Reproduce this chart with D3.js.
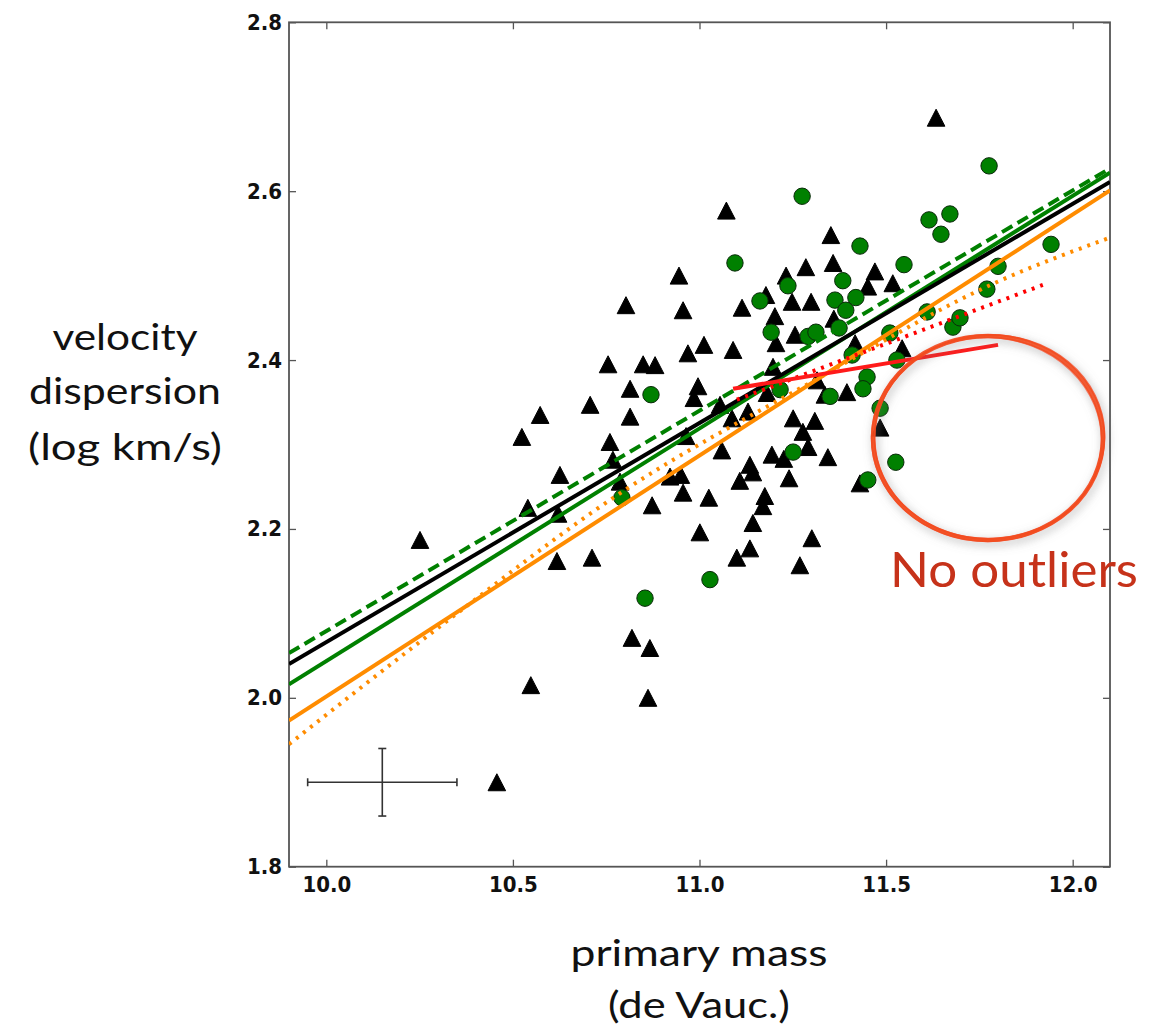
<!DOCTYPE html>
<html><head><meta charset="utf-8">
<script src="https://cdnjs.cloudflare.com/ajax/libs/d3/7.8.5/d3.min.js"></script>
<style>body{margin:0;background:#fff;} svg{display:block}</style>
</head><body>
<svg id="c" width="1168" height="1029"></svg>
<script>
// ---- data ----
const xTicks = [10.0, 10.5, 11.0, 11.5, 12.0];
const yTicks = [1.8, 2.0, 2.2, 2.4, 2.6, 2.8];

const triX = [11.634,11.072,11.352,10.945,11.285,11.358,11.470,11.232,11.451,11.518,
  11.178,11.248,11.299,10.803,10.956,11.114,11.202,11.360,11.256,11.205,
  11.417,11.543,11.012,10.969,11.090,10.755,10.849,10.881,11.197,10.814,
  10.996,10.985,11.181,10.707,10.573,10.814,11.055,11.087,11.130,11.251,
  11.309,11.277,11.291,11.336,11.395,11.315,11.484,10.524,10.964,10.760,
  10.768,11.060,11.194,11.226,11.344,11.135,11.143,10.626,10.921,10.950,
  10.787,11.108,11.240,11.430,10.956,11.025,10.873,11.175,11.170,10.540,
  10.621,11.001,11.143,11.301,11.135,11.100,10.618,10.712,11.269,10.251,
  10.819,10.867,10.548,10.862,10.457];
const triY = [2.687,2.577,2.548,2.500,2.510,2.515,2.505,2.500,2.487,2.491,
  2.477,2.469,2.469,2.465,2.459,2.462,2.452,2.449,2.430,2.420,
  2.420,2.414,2.418,2.408,2.412,2.395,2.395,2.394,2.392,2.366,
  2.369,2.355,2.361,2.347,2.335,2.333,2.347,2.331,2.339,2.331,
  2.328,2.315,2.297,2.359,2.362,2.376,2.320,2.309,2.310,2.303,
  2.282,2.293,2.288,2.283,2.285,2.276,2.267,2.264,2.262,2.264,
  2.256,2.257,2.260,2.254,2.243,2.237,2.228,2.239,2.227,2.225,
  2.218,2.196,2.207,2.189,2.177,2.166,2.162,2.166,2.157,2.187,
  2.071,2.059,2.015,2.000,1.900];

const circX = [11.776,11.275,11.615,11.671,11.647,11.430,11.095,11.548,11.942,11.237,
  11.384,11.800,11.770,11.162,11.363,11.419,11.392,11.610,11.679,11.698,
  11.192,11.291,11.312,11.374,11.510,11.409,11.529,11.449,11.438,11.216,
  11.350,10.870,11.484,11.251,11.526,11.451,11.028,10.854,10.792];
const circY = [2.630,2.594,2.566,2.573,2.549,2.535,2.515,2.513,2.537,2.488,
  2.494,2.511,2.484,2.470,2.471,2.474,2.459,2.457,2.439,2.450,
  2.433,2.428,2.433,2.438,2.432,2.406,2.400,2.380,2.366,2.365,
  2.357,2.359,2.343,2.291,2.279,2.258,2.140,2.118,2.237];

const fitX = [9.9, 12.1];
const blackFitY = [2.040, 2.611];
const greenFitY = [2.016, 2.622];
const greenDashFitY = [2.053, 2.627];
const orangeFitY = [1.973, 2.601];
const orangeDotX = [9.9, 10.3, 10.8, 11.3, 11.8, 12.1];
const orangeDotY = [1.945, 2.083, 2.246, 2.374, 2.493, 2.545];
const redDotX = [11.10, 11.92];
const redDotY = [2.353, 2.489];
const redX = [11.09, 11.80];
const redY = [2.366, 2.418];

const errX = [10.15], errY = [1.90], errXHalf = [0.2], errYHalf = [0.04];

// ---- chart ----
const svg = d3.select('#c');
svg.append('rect').attr('width',1168).attr('height',1029).attr('fill','#fff');

const L = 289, R = 1110, T = 22.3, B = 866.7;
const x = d3.scaleLinear().domain([9.9, 12.1]).range([L, R]);
const y = d3.scaleLinear().domain([1.8, 2.8]).range([B, T]);

const defs = svg.append('defs');
defs.append('clipPath').attr('id','plot').append('rect')
  .attr('x',L).attr('y',T).attr('width',R-L).attr('height',B-T);
const f = defs.append('filter').attr('id','shadow').attr('x','-20%').attr('y','-20%').attr('width','140%').attr('height','140%');
f.append('feDropShadow').attr('dx',2).attr('dy',3).attr('stdDeviation',5)
  .attr('flood-color','#777').attr('flood-opacity',0.55);

const tickFont = "'DejaVu Sans Condensed','DejaVu Sans',sans-serif";

// axes
const gx = svg.append('g').attr('transform',`translate(0,${B})`)
  .call(d3.axisBottom(x).tickValues(xTicks).tickSize(-7).tickSizeOuter(0).tickPadding(10).tickFormat(d3.format('.1f')));
const gy = svg.append('g').attr('transform',`translate(${L},0)`)
  .call(d3.axisLeft(y).tickValues(yTicks).tickSize(-7).tickSizeOuter(0).tickPadding(7).tickFormat(d3.format('.1f')));
const gt = svg.append('g').attr('transform',`translate(0,${T})`)
  .call(d3.axisTop(x).tickValues(xTicks).tickSize(-7).tickSizeOuter(0).tickFormat(''));
const gr = svg.append('g').attr('transform',`translate(${R},0)`)
  .call(d3.axisRight(y).tickValues(yTicks).tickSize(-7).tickSizeOuter(0).tickFormat(''));
[gx,gy,gt,gr].forEach(g=>{
  g.select('.domain').remove();
  g.selectAll('.tick line').attr('stroke','#555').attr('stroke-width',1.3);
  g.selectAll('text').attr('font-family',tickFont).attr('font-weight','bold')
    .attr('font-size',22).attr('fill','#111');
});
svg.append('rect').attr('x',L).attr('y',T).attr('width',R-L).attr('height',B-T)
  .attr('fill','none').attr('stroke','#555').attr('stroke-width',1.8);

// markers
const plot = svg.append('g').attr('clip-path','url(#plot)');
const triPath = 'M0,-8.5L8.8,8.5L-8.8,8.5Z';
plot.append('g').selectAll('path').data(d3.range(triX.length)).join('path')
  .attr('d',triPath)
  .attr('transform',i=>`translate(${x(triX[i])},${y(triY[i])})`)
  .attr('fill','#000').attr('stroke','#000').attr('stroke-width',1);
plot.append('g').selectAll('circle').data(d3.range(circX.length)).join('circle')
  .attr('cx',i=>x(circX[i])).attr('cy',i=>y(circY[i])).attr('r',8.2)
  .attr('fill','#008000').attr('stroke','#0a2a0a').attr('stroke-width',1);

// fit lines
const line = d3.line().x(d=>x(d[0])).y(d=>y(d[1]));
const curve = d3.line().x(d=>x(d[0])).y(d=>y(d[1])).curve(d3.curveMonotoneX);
function addLine(xs, ys, color, dash, gen){
  plot.append('path').datum(xs.map((v,i)=>[v,ys[i]]))
    .attr('d', gen||line).attr('fill','none').attr('stroke',color)
    .attr('stroke-width',4).attr('stroke-dasharray',dash||null);
}
addLine(orangeDotX, orangeDotY, '#ff8c00', '3,6', curve);
addLine(fitX, orangeFitY, '#ff8c00');
addLine(fitX, greenFitY, '#008000');
addLine(fitX, greenDashFitY, '#008000', '12,6');
addLine(fitX, blackFitY, '#000');
addLine(redDotX, redDotY, '#ff0000', '3,6');
addLine(redX, redY, '#ff1a1a');

// error bar
const eb = svg.append('g').attr('stroke','#333').attr('stroke-width',1.6);
errX.forEach((cx,i)=>{
  const x0=x(cx-errXHalf[i]), x1=x(cx+errXHalf[i]), yc=y(errY[i]);
  const y0=y(errY[i]-errYHalf[i]), y1=y(errY[i]+errYHalf[i]), xc=x(cx);
  eb.append('line').attr('x1',x0).attr('x2',x1).attr('y1',yc).attr('y2',yc);
  eb.append('line').attr('x1',xc).attr('x2',xc).attr('y1',y0).attr('y2',y1);
  eb.append('line').attr('x1',x0).attr('x2',x0).attr('y1',yc-4).attr('y2',yc+4);
  eb.append('line').attr('x1',x1).attr('x2',x1).attr('y1',yc-4).attr('y2',yc+4);
  eb.append('line').attr('x1',xc-4).attr('x2',xc+4).attr('y1',y0).attr('y2',y0);
  eb.append('line').attr('x1',xc-4).attr('x2',xc+4).attr('y1',y1).attr('y2',y1);
});

// annotation ellipse
const ann = svg.append('g').attr('filter','url(#shadow)');
[[0,0,0,4.5,0.9],[1.5,-1,-2,2,0.8],[-1.2,1.2,2,2,0.7]].forEach(([dx,dy,rot,w,o])=>{
  ann.append('ellipse').attr('cx',988+dx).attr('cy',438+dy).attr('rx',115).attr('ry',102)
    .attr('transform',`rotate(${rot},988,438)`)
    .attr('fill','none').attr('stroke','#f24a1c').attr('stroke-width',w).attr('opacity',o);
});
svg.append('text').attr('x',890).attr('y',587).text('No outliers')
  .attr('font-family',"Lato, 'Open Sans', sans-serif").attr('font-size',48)
  .attr('fill','#c6321a').attr('textLength',248).attr('lengthAdjust','spacingAndGlyphs');

// axis titles
const labFont = "Lato, 'Open Sans', sans-serif";
const yl = [['velocity',350,145],['dispersion',404,192],['(log km/s)',460,194]];
yl.forEach(([t,yy,w])=>{
  svg.append('text').attr('x',125).attr('y',yy).attr('text-anchor','middle').text(t)
    .attr('font-family',labFont).attr('font-size',36).attr('fill','#111')
    .attr('textLength',w).attr('lengthAdjust','spacingAndGlyphs');
});
const xl = [['primary mass',966,257],['(de Vauc.)',1018,182]];
xl.forEach(([t,yy,w])=>{
  svg.append('text').attr('x',699).attr('y',yy).attr('text-anchor','middle').text(t)
    .attr('font-family',labFont).attr('font-size',36).attr('fill','#111')
    .attr('textLength',w).attr('lengthAdjust','spacingAndGlyphs');
});
</script>
</body></html>
